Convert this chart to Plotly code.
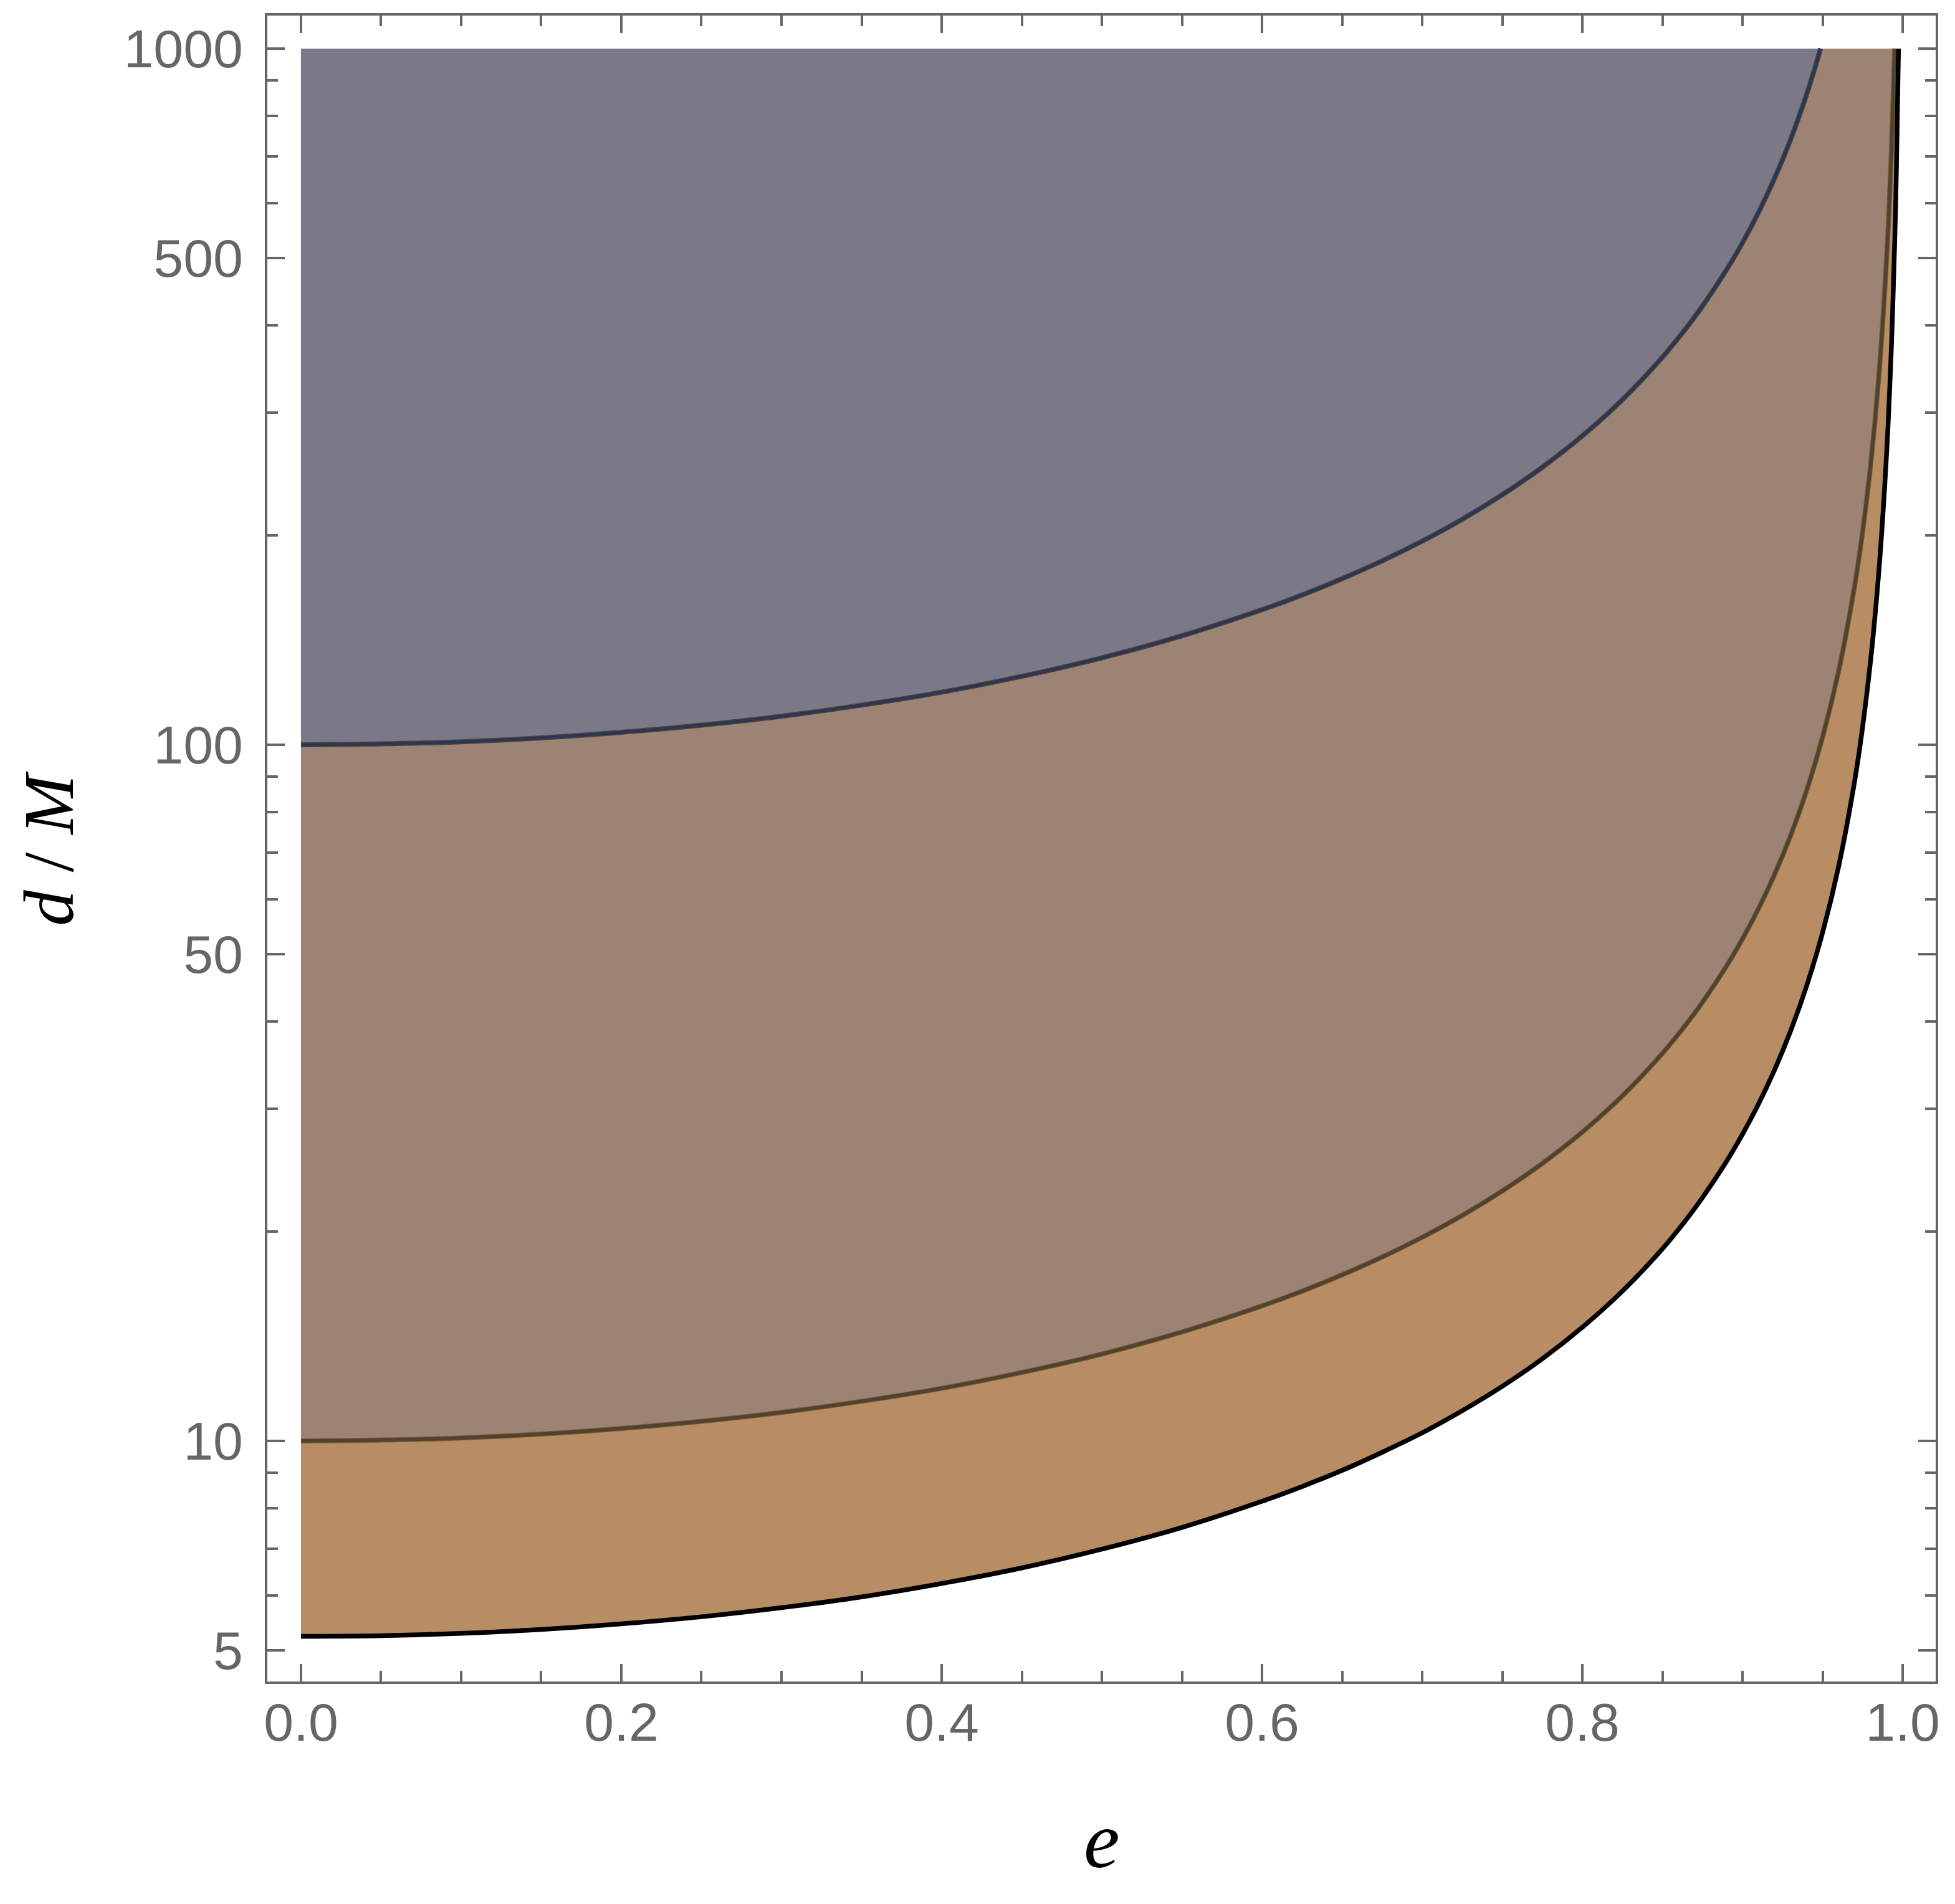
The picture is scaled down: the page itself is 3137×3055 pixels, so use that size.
import plotly.graph_objects as go

# ---- data (e vs d/M) ----
e_base = [0, 0.05, 0.1, 0.15, 0.2, 0.25, 0.3, 0.35, 0.4, 0.45, 0.5, 0.55, 0.6,
          0.625, 0.65, 0.675, 0.7, 0.725, 0.75, 0.775, 0.8, 0.825, 0.85,
          0.865, 0.875, 0.89, 0.9, 0.91, 0.92, 0.93, 0.94]

outer_e = e_base + [0.945, 0.9487]
outer_d = [100, 100.3, 101.0, 102.3, 104.2, 106.7, 109.9, 114.0, 119.0, 125.4, 133.3, 143.4, 156.3,
           164.1, 173.2, 183.7, 196.1, 210.8, 228.6, 250.4, 277.8, 313.1, 360.4,
           397.2, 426.7, 481.0, 526.3, 581.7, 651.0, 740.2, 859.1,
           934.8, 1000]

middle_e = e_base + [0.95, 0.96, 0.97, 0.975, 0.98, 0.985, 0.99, 0.993, 0.995]
middle_d = [10, 10.03, 10.10, 10.23, 10.42, 10.67, 10.99, 11.40, 11.90, 12.54, 13.33, 14.34, 15.63,
            16.41, 17.32, 18.37, 19.61, 21.08, 22.86, 25.04, 27.78, 31.31, 36.04,
            39.72, 42.67, 48.10, 52.63, 58.17, 65.10, 74.02, 85.91,
            102.6, 127.6, 169.2, 202.5, 252.5, 335.9, 502.5, 716.8, 1000]

inner_e = e_base + [0.95, 0.96, 0.97, 0.975, 0.98, 0.985, 0.99, 0.993, 0.995, 0.996, 0.9974]
inner_d = [5.24, 5.25, 5.29, 5.36, 5.46, 5.59, 5.76, 5.97, 6.24, 6.57, 6.99, 7.51, 8.19,
           8.60, 9.07, 9.63, 10.27, 11.05, 11.98, 13.12, 14.56, 16.41, 18.88,
           20.81, 22.36, 25.20, 27.58, 30.48, 34.11, 38.79, 45.02,
           53.74, 66.84, 88.66, 106.1, 132.3, 176.0, 263.3, 375.6, 525.3, 656.3, 1000]

top_d = 1000
x_ticks = [0.0, 0.2, 0.4, 0.6, 0.8, 1.0]
x_minor = [0.05, 0.1, 0.15, 0.25, 0.3, 0.35, 0.45, 0.5, 0.55, 0.65, 0.7, 0.75, 0.85, 0.9, 0.95]
y_ticks = [5, 10, 50, 100, 500, 1000]
y_minor = [6, 7, 8, 9, 20, 30, 40, 60, 70, 80, 90, 200, 300, 400, 600, 700, 800, 900]

fill_inner = "#b88d64"
fill_middle = "#9c8374"
fill_outer = "#7b7987"

fig = go.Figure()

def region(ex, dy, color):
    fig.add_trace(go.Scatter(
        x=list(ex) + [0], y=list(dy) + [top_d], mode="lines", fill="toself",
        fillcolor=color, line=dict(width=0, color=color),
        hoverinfo="skip", showlegend=False))

region(inner_e, inner_d, fill_inner)
region(middle_e, middle_d, fill_middle)
region(outer_e, outer_d, fill_outer)

def curve(ex, dy, color, width):
    fig.add_trace(go.Scatter(
        x=ex, y=dy, mode="lines",
        line=dict(color=color, width=width, shape="spline", smoothing=1.0),
        hoverinfo="skip", showlegend=False))

curve(outer_e, outer_d, "#4e4236", 8)
curve(outer_e, outer_d, "#27365a", 4.5)
curve(middle_e, middle_d, "#7a5a2e", 8)
curve(middle_e, middle_d, "#4e4233", 5.5)
curve(inner_e, inner_d, "#000000", 7.5)

axis_common = dict(
    showline=True, linecolor="#666666", linewidth=4, mirror="ticks",
    ticks="inside", ticklen=28, tickwidth=3.5, tickcolor="#666666",
    showgrid=False, zeroline=False,
    tickfont=dict(family="Liberation Sans, Arial, sans-serif", size=86, color="#666666"),
)

fig.update_xaxes(
    range=[-0.021, 1.0206], tickmode="array", tickvals=x_ticks,
    ticktext=["%.1f" % v for v in x_ticks],
    minor=dict(tickmode="array", tickvals=x_minor, ticks="inside", ticklen=17,
               tickwidth=3.5, tickcolor="#666666", showgrid=False),
    ticklabelstandoff=-12,
    **axis_common)

fig.update_yaxes(
    type="log", range=[0.6544, 3.0474], tickmode="array", tickvals=y_ticks,
    ticktext=[str(v) for v in y_ticks],
    minor=dict(tickmode="array", tickvals=y_minor, ticks="inside", ticklen=17,
               tickwidth=3.5, tickcolor="#666666", showgrid=False),
    ticklabelstandoff=18,
    **axis_common)

fig.add_annotation(
    text="<i>e</i>", xref="paper", yref="paper", x=0.5, y=-0.095,
    xanchor="center", yanchor="middle", showarrow=False,
    font=dict(family="Liberation Serif, Times New Roman, serif", size=130, color="#000000"))

fig.add_annotation(
    text="<i>d</i> / <i>M</i>", xref="paper", yref="paper", x=-0.131, y=0.5,
    xanchor="center", yanchor="middle", textangle=-90, showarrow=False,
    font=dict(family="Liberation Serif, Times New Roman, serif", size=115, color="#000000"))

fig.update_layout(
    width=3137, height=3055,
    margin=dict(l=421, r=39, t=17, b=365),
    paper_bgcolor="white", plot_bgcolor="white",
)

fig.write_html("out.html")
